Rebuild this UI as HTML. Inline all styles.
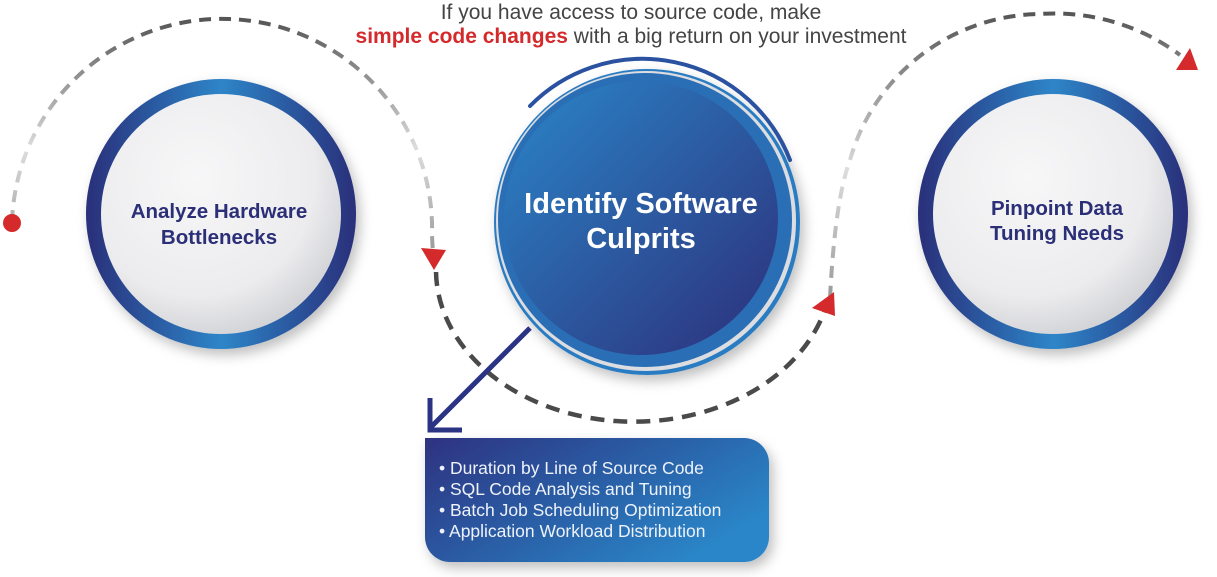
<!DOCTYPE html>
<html><head><meta charset="utf-8"><style>
html,body{margin:0;padding:0;background:#fff;width:1217px;height:577px;overflow:hidden}
svg{display:block}
text{font-family:"Liberation Sans",sans-serif}
</style></head><body>
<svg width="1217" height="577" viewBox="0 0 1217 577" xmlns="http://www.w3.org/2000/svg">
<defs>
<linearGradient id="ring" x1="0" y1="0" x2="1" y2="0">
<stop offset="0" stop-color="#2b2f7a"/><stop offset="0.5" stop-color="#2d85c8"/><stop offset="1" stop-color="#2b2f7a"/>
</linearGradient>
<radialGradient id="white" cx="0.4" cy="0.35" r="0.7">
<stop offset="0" stop-color="#f7f7f8"/><stop offset="0.7" stop-color="#ececee"/><stop offset="1" stop-color="#cfd0d4"/>
</radialGradient>
<linearGradient id="blue" x1="0" y1="0" x2="1" y2="1">
<stop offset="0" stop-color="#2b86c9"/><stop offset="1" stop-color="#2c2f7a"/>
</linearGradient>
<linearGradient id="box" x1="0" y1="0" x2="1" y2="0.6">
<stop offset="0" stop-color="#2d3280"/><stop offset="1" stop-color="#2b86c8"/>
</linearGradient>
<linearGradient id="dash" x1="0" y1="0" x2="0" y2="1">
<stop offset="0" stop-color="#555"/><stop offset="0.55" stop-color="#ddd"/><stop offset="1" stop-color="#999"/>
</linearGradient>
<filter id="sh" x="-20%" y="-20%" width="140%" height="140%"><feDropShadow dx="4" dy="6" stdDeviation="6" flood-color="#000" flood-opacity="0.25"/></filter>
</defs>

<path d="M12 222 A210 210 0 0 1 432 236 L433 255" fill="none" stroke="url(#dash)" stroke-width="4" stroke-dasharray="12 8"/>
<path d="M436 272 A198 152 0 0 0 828 300" fill="none" stroke="#4a4a4a" stroke-width="4.5" stroke-dasharray="14 9"/>
<path d="M830 298 Q835 200 850 160 A200 200 0 0 1 1040 14 A210 210 0 0 1 1180 55" fill="none" stroke="url(#dash)" stroke-width="4" stroke-dasharray="12 8"/>

<circle cx="12" cy="223" r="9" fill="#d42a2c"/>
<polygon points="421,248 446,250 434,270" fill="#d42a2c"/>
<polygon points="834,292 812,308 835,316" fill="#d42a2c"/>
<polygon points="1176,70 1198,70 1190,48" fill="#d42a2c"/>

<circle cx="221" cy="214" r="135" fill="url(#ring)" filter="url(#sh)"/>
<circle cx="221" cy="214" r="120" fill="url(#white)"/>
<text x="219" y="218" text-anchor="middle" font-size="20.5" font-weight="bold" fill="#2b2f78">Analyze Hardware</text>
<text x="219" y="244" text-anchor="middle" font-size="20.5" font-weight="bold" fill="#2b2f78">Bottlenecks</text>

<circle cx="1053" cy="214" r="135" fill="url(#ring)" filter="url(#sh)"/>
<circle cx="1053" cy="214" r="120" fill="url(#white)"/>
<text x="1057" y="215" text-anchor="middle" font-size="20.5" font-weight="bold" fill="#2b2f78">Pinpoint Data</text>
<text x="1057" y="240" text-anchor="middle" font-size="20.5" font-weight="bold" fill="#2b2f78">Tuning Needs</text>

<circle cx="647" cy="222" r="153" fill="#2c7cc2" filter="url(#sh)"/>
<circle cx="646" cy="221" r="150" fill="#dcdde0"/>
<circle cx="645" cy="220" r="147" fill="#2a6fb5"/>
<circle cx="641" cy="218" r="137" fill="url(#blue)"/>
<path d="M530 106 A158 158 0 0 1 790 160" fill="none" stroke="#2a52a0" stroke-width="4" stroke-linecap="round"/>
<text x="641" y="213" text-anchor="middle" font-size="29" font-weight="bold" fill="#fff">Identify Software</text>
<text x="641" y="248" text-anchor="middle" font-size="29" font-weight="bold" fill="#fff">Culprits</text>

<path d="M530 328 L430 428 M430 398 L430 430 L462 430" fill="none" stroke="#2b3384" stroke-width="5"/>

<path d="M425 438 H744 A25 25 0 0 1 769 463 V537 A25 25 0 0 1 744 562 H450 A25 25 0 0 1 425 537 Z" fill="url(#box)" filter="url(#sh)"/>
<g font-size="17.5" fill="#eef2fa">
<text x="439" y="474">• Duration by Line of Source Code</text>
<text x="439" y="495">• SQL Code Analysis and Tuning</text>
<text x="439" y="516">• Batch Job Scheduling Optimization</text>
<text x="439" y="537">• Application Workload Distribution</text>
</g>

<text x="631" y="19" text-anchor="middle" font-size="21" fill="#444">If you have access to source code, make</text>
<text x="631" y="43" text-anchor="middle" font-size="21" fill="#444"><tspan fill="#d42a2c" font-weight="bold">simple code changes</tspan> with a big return on your investment</text>
</svg>
</body></html>
